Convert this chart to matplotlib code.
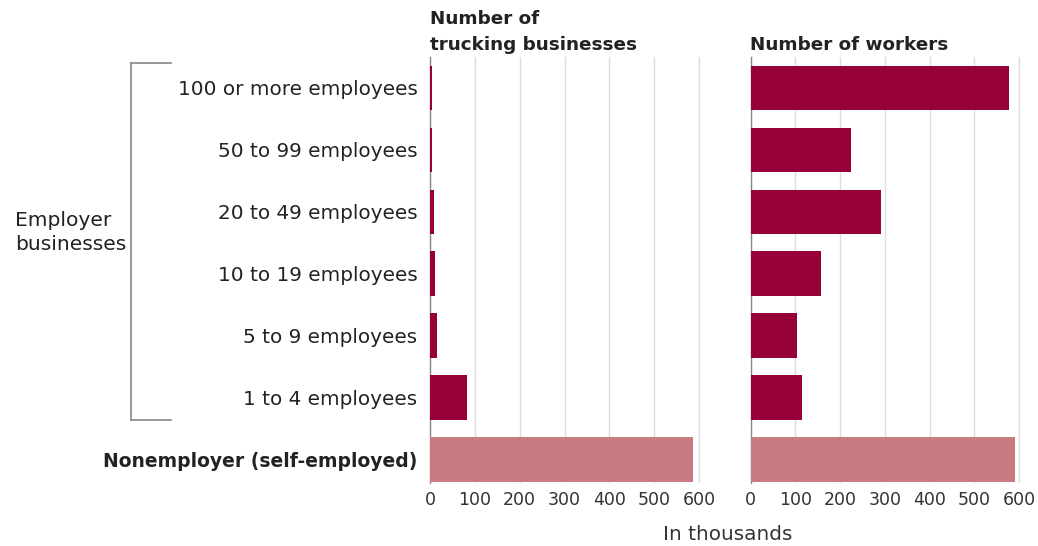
import matplotlib
matplotlib.use("Agg")
import matplotlib.pyplot as plt
from matplotlib.lines import Line2D

plt.rcParams['font.family'] = ['DejaVu Sans']

categories = ["100 or more employees", "50 to 99 employees", "20 to 49 employees",
              "10 to 19 employees", "5 to 9 employees", "1 to 4 employees",
              "Nonemployer (self-employed)"]
businesses = [4, 5, 9, 12, 15, 82, 587]
workers = [577, 223, 291, 157, 104, 115, 590]
xticks = [0, 100, 200, 300, 400, 500, 600]
dark = "#98003A"
light = "#C87B80"
colors = [dark] * 6 + [light]

fig = plt.figure(figsize=(10.38, 5.46), dpi=100)
W, H = 1038, 546
bottom = 1 - 483 / H
height = (483 - 57) / H
ax1 = fig.add_axes([430 / W, bottom, 273.5 / W, height])
ax2 = fig.add_axes([750.7 / W, bottom, 273 / W, height])

ypos = list(range(len(categories)))
for ax, vals in [(ax1, businesses), (ax2, workers)]:
    ax.barh(ypos, vals, height=0.72, color=colors, zorder=3)
    ax.set_xlim(0, 610)
    ax.set_ylim(6.38, -0.5)
    ax.set_xticks(xticks)
    ax.set_xticklabels([str(t) for t in xticks], fontsize=12.5, color="#333333")
    ax.tick_params(axis='x', length=0, pad=6)
    ax.tick_params(axis='y', length=0)
    ax.grid(axis='x', color="#dddddd", linewidth=1, zorder=0)
    for s in ['top', 'right', 'bottom']:
        ax.spines[s].set_visible(False)
    ax.spines['left'].set_color("#888888")
    ax.spines['left'].set_linewidth(1)
    ax.spines['left'].set_zorder(2)

ax1.set_yticks(ypos)
ax1.set_yticklabels(categories, fontsize=14.4, color="#222222")
ax1.tick_params(axis='y', pad=9)
lab = ax1.get_yticklabels()[-1]
lab.set_fontweight('bold')
lab.set_fontsize(13.5)
ax2.set_yticks([])

fig.text(430 / W, 1 - 24 / H, "Number of", fontsize=13.2,
         fontweight='bold', color="#222222", ha='left', va='baseline')
fig.text(430 / W, 1 - 50 / H, "trucking businesses", fontsize=13.2,
         fontweight='bold', color="#222222", ha='left', va='baseline')
fig.text(750 / W, 1 - 50 / H, "Number of workers", fontsize=13.2,
         fontweight='bold', color="#222222", ha='left', va='baseline')
fig.text(728 / W, 1 - 540 / H, "In thousands", fontsize=14.4, color="#333333",
         ha='center', va='baseline')
fig.text(15 / W, 1 - 226 / H, "Employer", fontsize=14.6, color="#222222",
         ha='left', va='baseline')
fig.text(15 / W, 1 - 250 / H, "businesses", fontsize=14.6, color="#222222",
         ha='left', va='baseline')

bx = 131 / W
bt = 1 - 63 / H
bb = 1 - 420 / H
be = 171 / W
for xs, ys in [([bx, bx], [bt, bb]), ([bx, be], [bt, bt]), ([bx, be], [bb, bb])]:
    fig.add_artist(Line2D(xs, ys, color="#888888", linewidth=1.2))

fig.savefig("out.png", dpi=100, facecolor="white")
